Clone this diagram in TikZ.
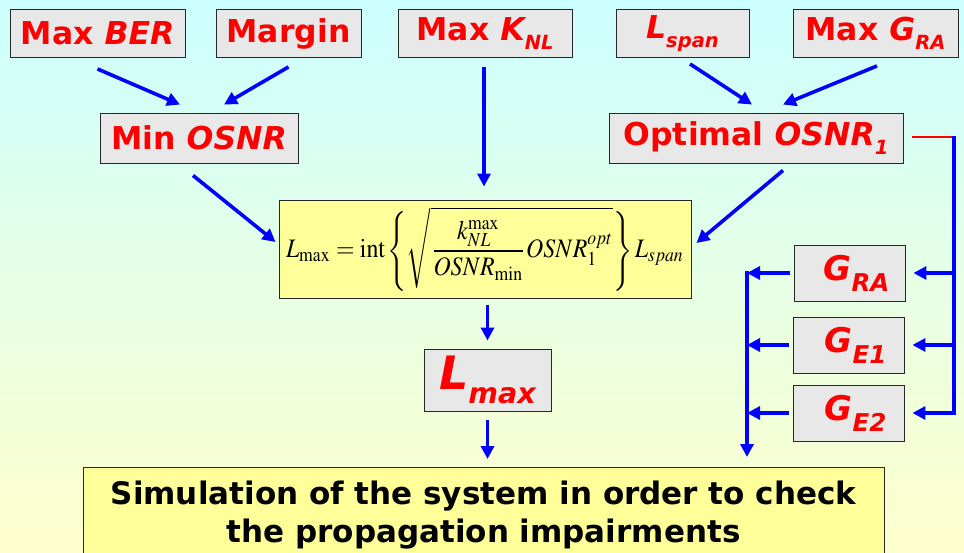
\documentclass[tikz,border=0pt]{standalone}
\usepackage{mathptmx}
\usepackage[no-math]{fontspec}
\usepackage{graphicx}
\usetikzlibrary{arrows.meta,calc}
\newfontfamily\lab{DejaVu Sans}
\definecolor{bgtop}{RGB}{204,255,255}
\definecolor{bgbot}{RGB}{255,255,204}
\definecolor{boxgray}{RGB}{232,232,232}
\definecolor{boxyel}{RGB}{255,255,153}
\newcommand\lsub[1]{\raisebox{-0.3em}{\scalebox{0.62}{#1}}}
\newcommand\gsub[1]{\raisebox{-0.32em}{\scalebox{0.72}{#1}}}
\begin{document}
\begin{tikzpicture}[x=1pt,y=-1pt,
  lbl/.style={draw=black!85, line width=0.9pt, fill=boxgray, text=red,
    font=\lab\bfseries\fontsize{31.5}{34}\selectfont, inner sep=0pt, minimum height=48pt},
  gbox/.style={lbl, minimum width=111pt, minimum height=56pt, font=\lab\bfseries\fontsize{34}{36}\selectfont},
  arr/.style={blue, line width=3.6pt, -{Triangle[length=13pt,width=13pt]}},
  bline/.style={blue, line width=3.6pt}]
\useasboundingbox (0,0) rectangle (964,553);
\clip (0,0) rectangle (964,553);
\shade[top color=bgtop, bottom color=bgbot] (0,0) rectangle (964,553);

% top row
\node[lbl, minimum width=175pt] (ber) at (97.5,33.5) {Max \textit{BER}};
\node[lbl, minimum width=145pt] (margin) at (288.5,33.5) {Margin};
\node[lbl, minimum width=174pt] (knl) at (485,33.5) {Max \textit{K\lsub{NL}}};
\node[lbl, minimum width=133pt] (lspan) at (682.5,33.5) {\textit{L\lsub{span}}};
\node[lbl, minimum width=165pt] (mgra) at (875.5,33.5) {Max \textit{G\lsub{RA}}};
% second row
\node[lbl, minimum width=198pt, minimum height=50pt] (minosnr) at (199,138) {Min \textit{OSNR}};
\node[lbl, minimum width=294pt, minimum height=50pt] (optosnr) at (756,138) {Optimal \textit{OSNR\lsub{1}}};
% formula
\node[draw=black!85, line width=0.9pt, fill=boxyel, minimum width=412pt, minimum height=98pt, inner sep=0pt] (formula) at (485,249)
  {\resizebox*{398pt}{84pt}{$\displaystyle L_{\max}=\mathrm{int}\left\{\sqrt{\frac{k_{NL}^{\max}}{OSNR_{\min}}OSNR_{1}^{opt}}\right\}L_{span}$}};
% Lmax
\node[lbl, minimum width=127pt, minimum height=62pt, font=\lab\bfseries\fontsize{46}{48}\selectfont] (lmax) at (487.5,380) {\textit{L\lsub{max}}};
% gains
\node[gbox] (gra) at (849.5,273) {\hspace*{14pt}\textit{G\gsub{RA}}};
\node[gbox] (ge1) at (848.5,345) {\hspace*{14pt}\textit{G\gsub{E1}}};
\node[gbox] (ge2) at (848.5,413) {\hspace*{14pt}\textit{G\gsub{E2}}};
% simulation
\node[draw=black!85, line width=0.9pt, fill=boxyel, minimum width=801pt, minimum height=96pt, inner sep=0pt, anchor=north,
  align=center, font=\lab\bfseries\fontsize{31}{38}\selectfont] (sim) at (483.5,467)
  {Simulation of the system in order to check\\the propagation impairments};

% arrows
\draw[arr] ([yshift=-11pt]ber.south) -- ([xshift=-19pt,yshift=8pt]minosnr.north);
\draw[arr] ([yshift=-9pt]margin.south) -- ([xshift=25pt,yshift=8pt]minosnr.north);
\draw[arr] ([xshift=-1pt,yshift=-9pt]knl.south) -- ([xshift=-1pt,yshift=13pt]formula.north);
\draw[arr] ([xshift=7.5pt,yshift=-6pt]lspan.south) -- ([xshift=-4pt,yshift=8pt]optosnr.north);
\draw[arr] ([xshift=1.5pt,yshift=-8pt]mgra.south) -- ([xshift=27pt,yshift=8pt]optosnr.north);
\draw[arr] ([xshift=-6pt,yshift=-12pt]minosnr.south) -- ([xshift=-3pt,yshift=7pt]formula.west);
\draw[arr] ([xshift=27pt,yshift=-7pt]optosnr.south) -- ([xshift=5pt,yshift=6pt]formula.east);
\draw[arr] ([yshift=-7pt]formula.south -| lmax.north) -- ([yshift=8pt]lmax.north);
\draw[arr] ([yshift=-9pt]lmax.south) -- ([yshift=8pt]sim.north -| lmax.south);

% right feed
\coordinate (rj) at (954,137);
\coordinate (rb) at (954,413);
\draw[red, line width=2.6pt] ([xshift=9pt]optosnr.east |- rj) -- (rj);
\draw[bline] ([yshift=1.3pt]rj) -- ([yshift=-1.8pt]rb);
\draw[arr] (rj |- gra.east) -- ([xshift=8pt]gra.east);
\draw[arr] (rj |- ge1.east) -- ([xshift=8pt]ge1.east);
\draw[arr] ([xshift=1.8pt]rb) -- ([xshift=8pt]ge2.east);

% left collector
\coordinate (lt) at (747,273);
\coordinate (lb) at (747,457);
\draw[arr] ([xshift=-4pt]gra.west) -- (lt);
\draw[arr] ([xshift=-4pt]ge1.west) -- (lt |- ge1.west);
\draw[arr] ([xshift=-4pt]ge2.west) -- (lt |- ge2.west);
\draw[bline, -{Triangle[length=13pt,width=13pt]}] ([yshift=1.8pt]lt) -- (lb);
\end{tikzpicture}
\end{document}
